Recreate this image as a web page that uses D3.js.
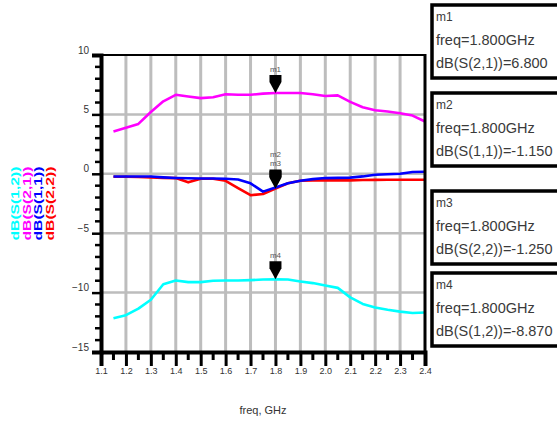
<!DOCTYPE html>
<html>
<head>
<meta charset="utf-8">
<script src="https://cdn.jsdelivr.net/npm/d3@7"></script>
<style>
  html, body { margin: 0; padding: 0; background: #fff; }
  svg { display: block; font-family: "Liberation Sans", Arial, sans-serif; }
</style>
</head>
<body>
<svg id="chart" width="557" height="422"></svg>
<script>
// Frequency sweep (GHz)
const freqGHz = [1.15, 1.20, 1.25, 1.30, 1.35, 1.40, 1.45, 1.50, 1.55, 1.60, 1.65, 1.70, 1.75,
                 1.80, 1.85, 1.90, 1.95, 2.00, 2.05, 2.10, 2.15, 2.20, 2.25, 2.30, 2.35, 2.40];

// S-parameter magnitudes (dB)
const dbS21 = [3.56, 3.87, 4.20, 5.20, 6.10, 6.65, 6.50, 6.37, 6.45, 6.70, 6.65, 6.65, 6.75,
               6.80, 6.80, 6.80, 6.70, 6.55, 6.60, 6.05, 5.60, 5.35, 5.25, 5.10, 4.90, 4.40];
const dbS11 = [-0.23, -0.23, -0.23, -0.23, -0.30, -0.35, -0.38, -0.40, -0.40, -0.42, -0.48, -0.80, -1.50,
               -1.15, -0.80, -0.59, -0.45, -0.36, -0.34, -0.32, -0.22, -0.08, -0.04, 0.00, 0.15, 0.17];
const dbS22 = [-0.25, -0.25, -0.27, -0.30, -0.34, -0.36, -0.72, -0.42, -0.42, -0.59, -1.20, -1.80, -1.70,
               -1.25, -0.80, -0.59, -0.55, -0.55, -0.55, -0.55, -0.52, -0.51, -0.50, -0.50, -0.50, -0.50];
const dbS12 = [-12.15, -11.90, -11.35, -10.60, -9.30, -8.98, -9.12, -9.12, -9.00, -8.98, -8.98, -8.95, -8.90,
               -8.87, -8.90, -9.06, -9.20, -9.40, -9.60, -10.40, -10.95, -11.25, -11.45, -11.60, -11.72, -11.67];

// Axis ticks
const xMajorTicks = [1.1, 1.2, 1.3, 1.4, 1.5, 1.6, 1.7, 1.8, 1.9, 2.0, 2.1, 2.2, 2.3, 2.4];
const xMinorTicks = [1.15, 1.25, 1.35, 1.45, 1.55, 1.65, 1.75, 1.85, 1.95, 2.05, 2.15, 2.25, 2.35];
const yMajorTicks = [-15, -10, -5, 0, 5, 10];
const yMinorTicks = d3.range(-15, 11, 1).filter(v => v % 5 !== 0);

// Traces, in the order their y-axis labels are stacked
const traces = [
  { name: "dB(S(1,2))", color: "#00ffff", values: dbS12 },
  { name: "dB(S(2,1))", color: "#ff00ff", values: dbS21 },
  { name: "dB(S(1,1))", color: "#0000ff", values: dbS11 },
  { name: "dB(S(2,2))", color: "#ff0000", values: dbS22 }
];
const drawOrder = [1, 0, 3, 2];

// Markers at 1.8 GHz
const markerFreq = 1.8;
const markers = [
  { id: "m1", trace: 1 },
  { id: "m2", trace: 2 },
  { id: "m3", trace: 3 },
  { id: "m4", trace: 0 }
];

const svg = d3.select("#chart");
const plot = { left: 101, right: 425, top: 55, bottom: 352 };

const x = d3.scaleLinear().domain([1.1, 2.4]).range([plot.left, plot.right]);
const y = d3.scaleLinear().domain([-15, 10]).range([plot.bottom, plot.top]);

// Grid
const grid = svg.append("g");
grid.selectAll("line.vx").data(xMajorTicks.slice(1, -1)).join("line")
  .attr("x1", d => x(d)).attr("x2", d => x(d))
  .attr("y1", plot.top).attr("y2", plot.bottom)
  .attr("stroke", "#bdbdbd").attr("stroke-width", 3);
grid.selectAll("line.hy").data(yMajorTicks.slice(1, -1)).join("line")
  .attr("x1", plot.left).attr("x2", plot.right)
  .attr("y1", d => y(d)).attr("y2", d => y(d))
  .attr("stroke", "#bdbdbd").attr("stroke-width", 2.5);

// Traces
const line = d3.line().x((d, i) => x(freqGHz[i])).y(d => y(d));
drawOrder.forEach(k => {
  const t = traces[k];
  svg.append("path").datum(t.values)
    .attr("d", line)
    .attr("fill", "none")
    .attr("stroke", t.color)
    .attr("stroke-width", 2.6)
    .attr("stroke-linejoin", "round");
});

// Frame
svg.append("line").attr("x1", plot.left).attr("x2", plot.right).attr("y1", plot.top).attr("y2", plot.top)
  .attr("stroke", "#000").attr("stroke-width", 2);
svg.append("line").attr("x1", plot.right).attr("x2", plot.right).attr("y1", plot.top - 1).attr("y2", plot.bottom)
  .attr("stroke", "#000").attr("stroke-width", 3);

// Y axis
const yAxis = svg.append("g").attr("transform", `translate(${plot.left},0)`)
  .call(d3.axisLeft(y).tickValues(yMajorTicks).tickSize(9).tickPadding(3).tickFormat(d3.format("d")));
yAxis.select(".domain").attr("stroke-width", 4);
yAxis.selectAll(".tick line").attr("stroke-width", 2.5);
yAxis.selectAll(".tick text").attr("font-size", 10).attr("fill", "#333").attr("dy", "-0.2em");
svg.append("g").selectAll("line").data(yMinorTicks).join("line")
  .attr("x1", plot.left - 6).attr("x2", plot.left)
  .attr("y1", d => y(d)).attr("y2", d => y(d))
  .attr("stroke", "#000").attr("stroke-width", 2.5);

// X axis
const xAxis = svg.append("g").attr("transform", `translate(0,${plot.bottom})`)
  .call(d3.axisBottom(x).tickValues(xMajorTicks).tickSize(14).tickPadding(2).tickFormat(d3.format(".1f")));
xAxis.select(".domain").attr("stroke-width", 4);
xAxis.selectAll(".tick line").attr("stroke-width", 3);
xAxis.selectAll(".tick text").attr("font-size", 9).attr("fill", "#333");
svg.append("g").selectAll("line").data(xMinorTicks).join("line")
  .attr("x1", d => x(d)).attr("x2", d => x(d))
  .attr("y1", plot.bottom).attr("y2", plot.bottom + 8)
  .attr("stroke", "#000").attr("stroke-width", 3);

// X axis title
svg.append("text")
  .attr("x", (plot.left + plot.right) / 2).attr("y", 414)
  .attr("text-anchor", "middle").attr("font-size", 11).attr("fill", "#333")
  .text("freq, GHz");

// Stacked, colour-coded y axis titles
const yMid = (plot.top + plot.bottom) / 2;
traces.forEach((t, i) => {
  const cx = 19 + i * 11.5;
  svg.append("text")
    .attr("transform", `translate(${cx},${yMid}) rotate(-90)`)
    .attr("text-anchor", "middle")
    .attr("font-size", 11)
    .attr("font-weight", "bold")
    .attr("fill", t.color)
    .attr("textLength", 74)
    .attr("lengthAdjust", "spacingAndGlyphs")
    .text(t.name);
});

// Marker symbols on the traces
const fIdx = freqGHz.indexOf(markerFreq);
const symbol = "M-6,-18 L6,-18 L6,-11 L0,0 L-6,-11 Z";
markers.forEach(m => {
  const v = traces[m.trace].values[fIdx];
  const px = x(markerFreq), py = y(v);
  svg.append("path").attr("d", symbol)
    .attr("transform", `translate(${px},${py})`)
    .attr("fill", "#000");
});
// Marker names above the symbols (m2 and m3 share a point, so stack them)
[["m1"], ["m2", "m3"], ["m4"]].forEach(group => {
  const first = markers.find(m => m.id === group[0]);
  const v = traces[first.trace].values[fIdx];
  const px = x(markerFreq), py = y(v);
  group.forEach((id, j) => {
    svg.append("text")
      .attr("x", px).attr("y", py - 21 - (group.length - 1 - j) * 9)
      .attr("text-anchor", "middle").attr("font-size", 8).attr("fill", "#555")
      .text(id);
  });
});

// Marker readout boxes
const boxTops = [5, 93, 191, 273];
markers.forEach((m, i) => {
  const v = traces[m.trace].values[fIdx];
  const g = svg.append("g").attr("transform", `translate(432,${boxTops[i]})`);
  g.append("rect").attr("x", 0).attr("y", 0).attr("width", 140).attr("height", 73)
    .attr("fill", "#fff").attr("stroke", "#000").attr("stroke-width", 3.5);
  const lines = [m.id, `freq=${markerFreq.toFixed(3)}GHz`, `${traces[m.trace].name}=${v.toFixed(3)}`];
  const base = [16, 40, 63];
  lines.forEach((s, j) => {
    g.append("text").attr("x", 4).attr("y", base[j])
      .attr("font-size", j === 0 ? 12 : 14.5).attr("fill", "#3a3a3a")
      .text(s);
  });
});
</script>
</body>
</html>
